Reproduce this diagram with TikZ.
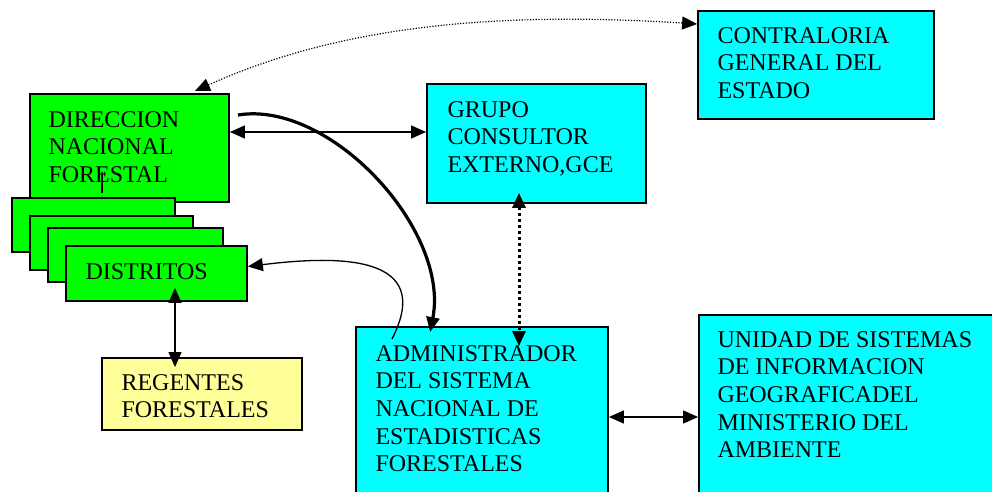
\documentclass[tikz,border=0pt]{standalone}
\usepackage{fontspec}
\setmainfont{Liberation Serif}
\usetikzlibrary{arrows.meta,fit,calc}

\definecolor{boxcyan}{RGB}{0,255,255}
\definecolor{boxgreen}{RGB}{0,255,0}
\definecolor{boxyellow}{RGB}{255,255,153}

\tikzset{
  box/.style={draw=black, line width=0.9pt, inner sep=0pt},
  cyanbox/.style={box, fill=boxcyan},
  greenbox/.style={box, fill=boxgreen},
  yellowbox/.style={box, fill=boxyellow},
  boxtext/.style={anchor=north west, inner sep=0pt, align=left, font=\fontsize{12}{13.8}\selectfont},
  thinline/.style={line width=0.65pt},
  thickline/.style={line width=1.6pt},
  bigdots/.style={line width=1.5pt, dash pattern=on 1.5pt off 1.5pt},
  finedots/.style={line width=0.6pt, dash pattern=on 0.6pt off 0.8pt},
  both/.style={{Triangle[length=7.5pt,width=6.5pt]}-{Triangle[length=7.5pt,width=6.5pt]}},
  tipend/.style={-{Triangle[length=7.5pt,width=6.5pt]}},
}

\begin{document}
\begin{tikzpicture}[x=0.5pt,y=-0.5pt]
\useasboundingbox (0,0) rectangle (992,492);
\clip (0,0) rectangle (992,492);

% boxes
\node[cyanbox, fit={(698,11) (934,119)}] (cge) {};
\node[boxtext] (cgetxt) at ($(cge.north west)+(20,17)$) {CONTRALORIA\\GENERAL DEL\\ESTADO};

\node[greenbox, fit={(30,94) (229,202)}] (dnf) {};
\node[boxtext] (dnftxt) at ($(dnf.north west)+(19,18)$) {DIRECCION\\NACIONAL\\FORESTAL};
\draw[thinline] (102,172) -- (102,193);

\node[greenbox, fit={(12,198) (175,252)}] (dis1) {};
\node[greenbox, fit={(30,216) (193,270)}] (dis2) {};
\node[greenbox, fit={(48,228) (223,282)}] (dis3) {};
\node[greenbox, fit={(66,246) (247,301)}] (dis) {};
\node[boxtext, anchor=west] (distxt) at ($(dis.west)+(20,-2)$) {DISTRITOS};

\node[cyanbox, fit={(427,84) (646,203)}] (gce) {};
\node[boxtext] (gcetxt) at ($(gce.north west)+(21,18)$) {GRUPO\\CONSULTOR\\EXTERNO,GCE};

\node[yellowbox, fit={(102,358) (302,430)}] (rf) {};
\node[boxtext] (rftxt) at ($(rf.north west)+(20,17)$) {REGENTES\\FORESTALES};

\node[cyanbox, fit={(356,327) (608,520)}] (asn) {};
\node[boxtext] (asntxt) at ($(asn.north west)+(20,19)$) {ADMINISTRADOR\\DEL SISTEMA\\NACIONAL DE\\ESTADISTICAS\\FORESTALES};

\node[cyanbox, fit={(699,315) (1020,520)}] (usig) {};
\node[boxtext] (usigtxt) at ($(usig.north west)+(19,17)$) {UNIDAD DE SISTEMAS\\DE INFORMACION\\GEOGRAFICADEL\\MINISTERIO DEL\\AMBIENTE};

% connectors
\coordinate (row1) at (0,132);
\coordinate (row2) at (0,417);
\coordinate (col1) at (519,0);
\coordinate (col2) at (175,0);
\coordinate (cgerow) at (0,24);
\coordinate (dnftop) at (195,91);
\coordinate (thickstart) at (238,115);
\coordinate (curvestart) at (392,339);

\draw[thinline, both] (dnf.east |- row1) -- (gce.west |- row1);
\draw[finedots, both] (dnftop) .. controls (330,30) and (480,10) .. (cge.west |- cgerow);
\draw[thickline, tipend] (thickstart) .. controls (330,100) and (450,230) .. ($(asn.north west)+(75,6)$);
\draw[thinline, tipend] (curvestart) .. controls (435,255) and (340,255) .. ($(dis.east)+(0,-7)$);
\draw[bigdots, both, shorten <=-5.5pt, shorten >=-10pt] (gce.south -| col1) -- (asn.north -| col1);
\draw[thinline, both, shorten <=-7pt, shorten >=-5pt] (dis.south -| col2) -- (rf.north -| col2);
\draw[thinline, both] (asn.east |- row2) -- (usig.west |- row2);
\end{tikzpicture}
\end{document}
